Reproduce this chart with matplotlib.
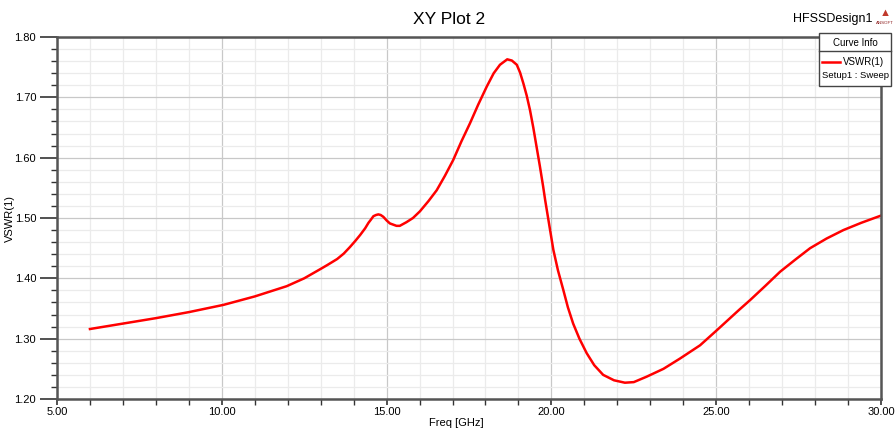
import matplotlib.pyplot as plt
from matplotlib.ticker import MultipleLocator, FormatStrFormatter

freq = [6.0, 7.0, 8.0, 9.0, 10.05, 11.0, 11.97, 12.5, 12.98, 13.2, 13.5, 13.7, 13.89, 14.05, 14.2,
        14.35, 14.45, 14.52, 14.6, 14.68, 14.75, 14.82, 14.9, 15.0, 15.1, 15.2, 15.3, 15.4, 15.6,
        15.8, 16.01, 16.27, 16.52, 16.77, 17.02, 17.27, 17.53, 17.78, 18.04, 18.25, 18.44, 18.66,
        18.8, 18.95, 19.05, 19.15, 19.25, 19.35, 19.45, 19.55, 19.65, 19.75, 19.81, 19.93, 20.06,
        20.2, 20.36, 20.5, 20.66, 20.85, 21.07, 21.3, 21.57, 21.9, 22.23, 22.5, 22.89, 23.4, 23.9,
        24.51, 25.02, 25.42, 25.7, 26.03, 26.5, 26.94, 27.4, 27.85, 28.35, 28.86, 29.4, 30.0]
vswr = [1.316, 1.325, 1.334, 1.344, 1.356, 1.370, 1.387, 1.400, 1.415, 1.422, 1.432, 1.441, 1.452,
        1.462, 1.472, 1.483, 1.492, 1.497, 1.503, 1.505, 1.506, 1.505, 1.502, 1.496, 1.491, 1.489,
        1.487, 1.487, 1.493, 1.500, 1.511, 1.528, 1.546, 1.570, 1.596, 1.627, 1.657, 1.688, 1.718,
        1.740, 1.754, 1.763, 1.761, 1.754, 1.741, 1.723, 1.703, 1.679, 1.650, 1.618, 1.586, 1.552,
        1.530, 1.490, 1.447, 1.413, 1.381, 1.352, 1.325, 1.300, 1.276, 1.256, 1.240, 1.231, 1.227,
        1.228, 1.237, 1.250, 1.267, 1.289, 1.314, 1.334, 1.348, 1.364, 1.388, 1.411, 1.431, 1.450,
        1.466, 1.480, 1.492, 1.504]

plt.rcParams['font.family'] = ['Liberation Sans', 'DejaVu Sans']

fig = plt.figure(figsize=(8.96, 4.32), dpi=100)
ax = fig.add_axes([57/896, 1 - 399/432, (881-57)/896, (399-37)/432])

ax.plot(freq, vswr, color='#ff0000', lw=1.8, label='VSWR(1)')

ax.set_xlim(5, 30)
ax.set_ylim(1.2, 1.8)
ax.xaxis.set_major_locator(MultipleLocator(5))
ax.xaxis.set_minor_locator(MultipleLocator(1))
ax.yaxis.set_major_locator(MultipleLocator(0.1))
ax.yaxis.set_minor_locator(MultipleLocator(0.02))
ax.xaxis.set_major_formatter(FormatStrFormatter('%.2f'))
ax.yaxis.set_major_formatter(FormatStrFormatter('%.2f'))
ax.grid(which='major', color='#c8c8c8', lw=0.9)
ax.grid(which='minor', color='#ebebeb', lw=0.9)
ax.set_axisbelow(True)
ax.tick_params(axis='y', which='major', length=12, width=1.2, color='#333333', labelsize=8, pad=3)
ax.tick_params(axis='x', which='major', length=4, width=1.2, color='#333333', labelsize=8, pad=2)
ax.tick_params(which='minor', length=4, width=1.0, color='#333333')
for s in ax.spines.values():
    s.set_color('#555555')
    s.set_linewidth(1.8)

fig.text(456/896, 1 - 423/432, 'Freq [GHz]', ha='center', va='center', fontsize=8)
fig.text(10/896, 1 - 218/432, 'VSWR(1)', ha='center', va='center', fontsize=8, rotation=90)
fig.text(449/896, 1 - 19/432, 'XY Plot 2', ha='center', va='center', fontsize=12.5)
fig.text(833/896, 1 - 19/432, 'HFSSDesign1', ha='center', va='center', fontsize=9)
fig.text(885/896, 1 - 13/432, '\u25b2', ha='center', va='center', fontsize=8, color='#c0392b')
fig.text(885/896, 1 - 23/432, 'ANSOFT', ha='center', va='center', fontsize=3.2, color='#8b1a1a')

# boite "Curve Info"
bx0, bx1 = 819/896, 891/896
by_top, by_mid, by_bot = 1 - 33/432, 1 - 51/432, 1 - 86/432
fig.patches.append(plt.Rectangle((bx0, by_bot), bx1 - bx0, by_top - by_bot, transform=fig.transFigure,
                                 facecolor='white', edgecolor='#444444', lw=1.0))
fig.lines.append(plt.Line2D([bx0, bx1], [by_mid, by_mid], transform=fig.transFigure, color='#444444', lw=1.0))
fig.text((bx0 + bx1) / 2, 1 - 43/432, 'Curve Info', ha='center', va='center', fontsize=7)
fig.lines.append(plt.Line2D([822/896, 840/896], [1 - 62/432, 1 - 62/432], transform=fig.transFigure,
                            color='#ff0000', lw=1.8))
fig.text(884/896, 1 - 62/432, 'VSWR(1)', ha='right', va='center', fontsize=7)
fig.text(889/896, 1 - 76/432, 'Setup1 : Sweep', ha='right', va='center', fontsize=6.8)

fig.savefig('out.png', dpi=100)
